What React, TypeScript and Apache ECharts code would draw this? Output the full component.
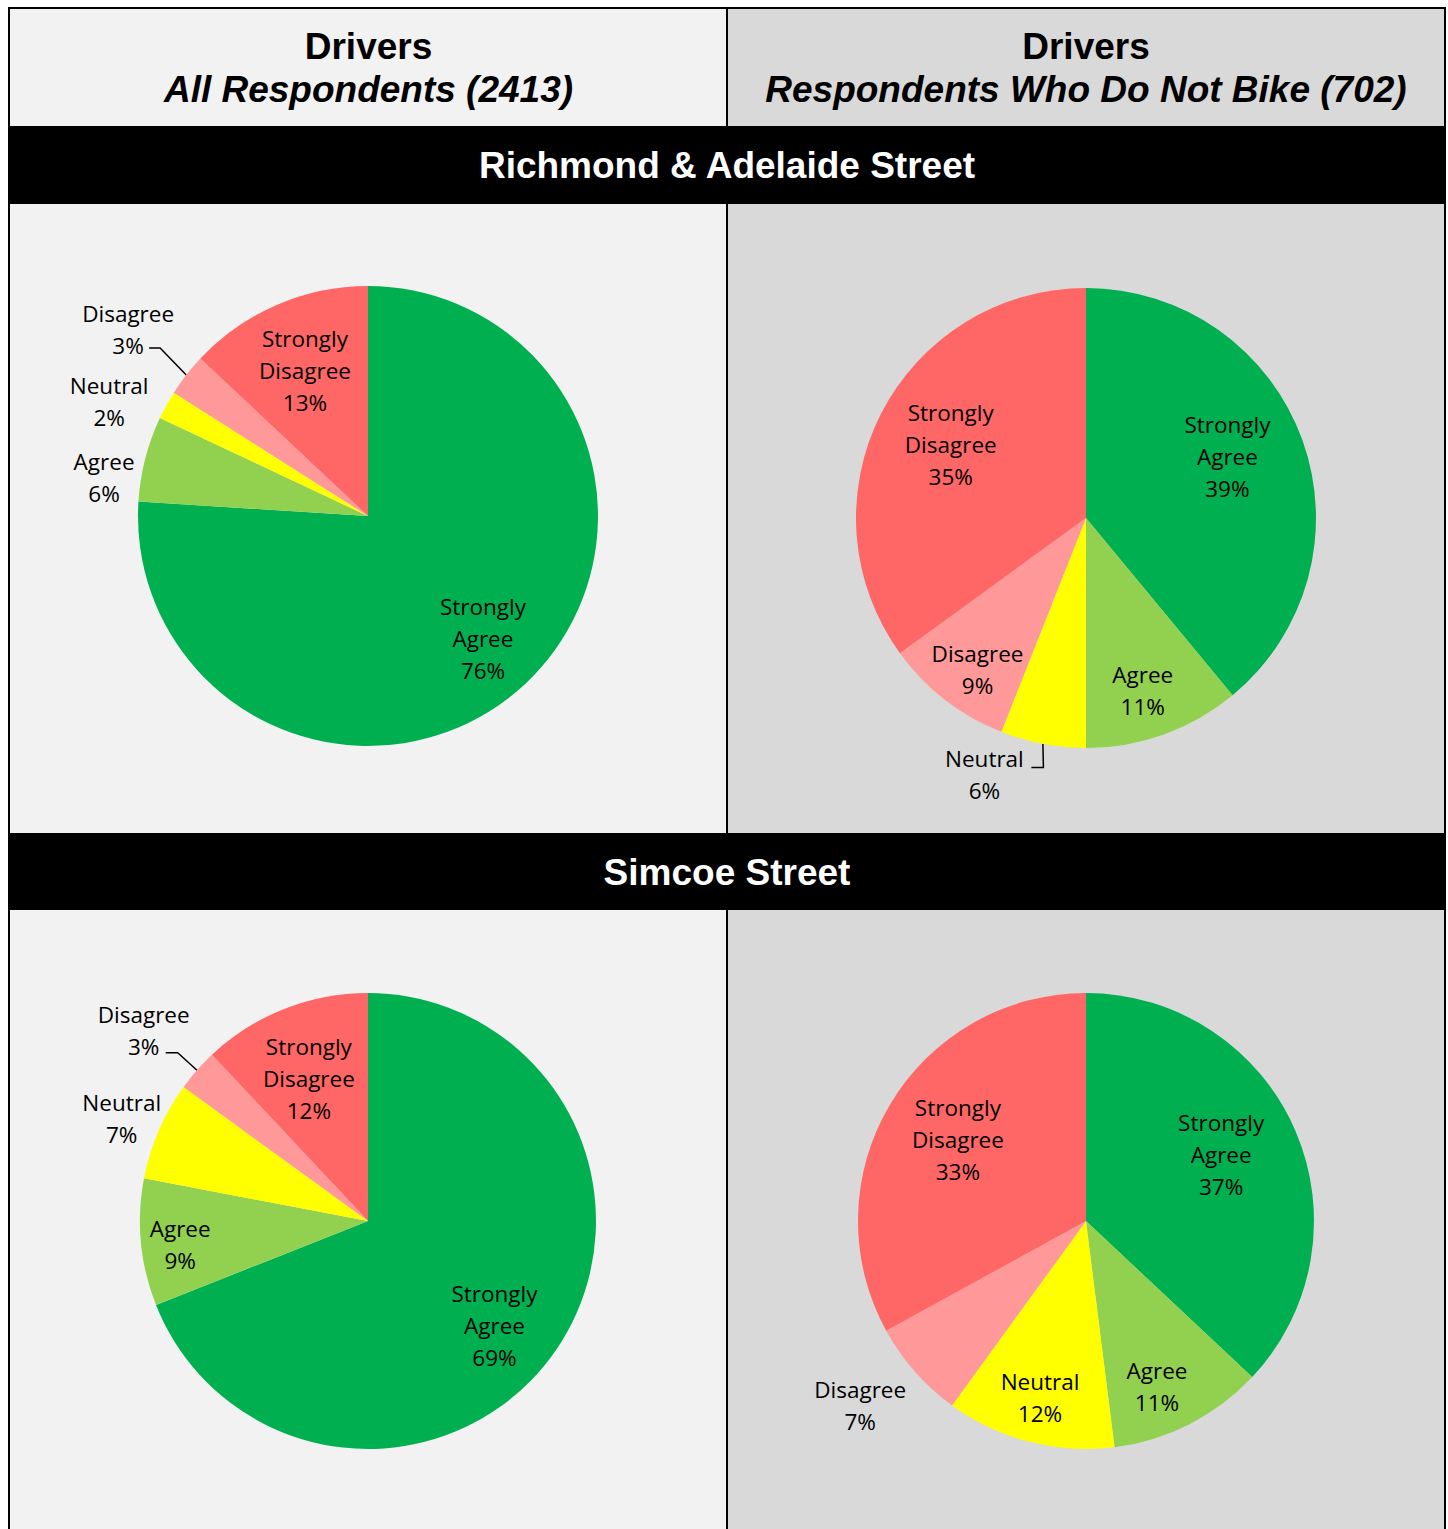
import React, { useEffect, useRef } from 'react';
import * as echarts from 'echarts';

// ---------- data ----------
const categories = ['Strongly Agree', 'Agree', 'Neutral', 'Disagree', 'Strongly Disagree'];
const richmondAll = [76, 6, 2, 3, 13];
const richmondNonBike = [39, 11, 6, 9, 35];
const simcoeAll = [69, 9, 7, 3, 12];
const simcoeNonBike = [37, 11, 12, 7, 33];

const columnTitles = ['Drivers', 'Drivers'];
const columnSubtitles = ['All Respondents (2413)', 'Respondents Who Do Not Bike (702)'];
const sectionTitles = ['Richmond & Adelaide Street', 'Simcoe Street'];

// ---------- styles / layout ----------
const sliceColors = ['#00B050', '#92D050', '#FFFF00', '#FF9999', '#FF6666'];
const W = 1448;
const H = 1529;
const LEFT = 9;
const MID = 727;
const RIGHT = 1445;
const TOP = 8;

type PieCfg = {
  values: number[];
  center: [number, number];
  r: number;
  place: [number, number][]; // [radius fraction, angle nudge in degrees]
  leader: Record<number, [[number, number], [number, number]]>;
};

const pies: PieCfg[] = [
  {
    values: richmondAll,
    center: [368, 516],
    r: 230,
    place: [[0.73, 0], [1.16, -6], [1.23, -5], [1.32, 0], [0.69, 0]],
    leader: { 3: [[32, 18], [21, 18]] },
  },
  {
    values: richmondNonBike,
    center: [1086, 518],
    r: 230,
    place: [[0.67, -3.6], [0.79, 1.6], [1.2, 10.8], [0.81, -2.2], [0.67, 1.6]],
    leader: { 2: [[59, -7], [47, -7]] },
  },
  {
    values: simcoeAll,
    center: [368, 1221],
    r: 228,
    place: [[0.72, 5.4], [0.83, -1.6], [1.17, -0.8], [1.29, -1.1], [0.675, -1]],
    leader: { 3: [[34, 22], [22, 22]] },
  },
  {
    values: simcoeNonBike,
    center: [1086, 1221],
    r: 228,
    place: [[0.66, -2.7], [0.79, 3.8], [0.8, 0.2], [1.28, 2.1], [0.667, 2]],
    leader: {},
  },
];

function midAngle(values: number[], i: number): number {
  const total = values.reduce((a, b) => a + b, 0);
  let before = 0;
  for (let j = 0; j < i; j++) before += values[j];
  return ((before + values[i] / 2) / total) * 360;
}

function buildSeries(cfg: PieCfg) {
  const [cx, cy] = cfg.center;
  return {
    type: 'pie',
    center: [cx, cy],
    radius: [0, cfg.r],
    startAngle: 90,
    clockwise: true,
    avoidLabelOverlap: false,
    silent: true,
    emphasis: { disabled: true },
    itemStyle: { borderWidth: 0 },
    label: {
      show: true,
      position: 'outside',
      color: '#000',
      fontFamily: '"Open Sans", sans-serif',
      fontSize: 22.5,
      lineHeight: 32,
      align: 'center',
      formatter: (p: any) => `${String(p.name).replace(' ', '\n')}\n${p.value}%`,
    },
    labelLine: { show: false },
    data: categories.map((name, i) => ({
      name,
      value: cfg.values[i],
      itemStyle: { color: sliceColors[i] },
      labelLine: cfg.leader[i]
        ? { show: true, lineStyle: { color: '#000', width: 1.5 } }
        : { show: false },
    })),
    labelLayout: (params: any) => {
      const i = params.dataIndex;
      const mid = midAngle(cfg.values, i);
      const [f, dt] = cfg.place[i];
      const th = ((mid + dt) * Math.PI) / 180;
      const x = cx + f * cfg.r * Math.sin(th);
      const y = cy - f * cfg.r * Math.cos(th);
      const out: any = { x, y, align: 'center', verticalAlign: 'middle' };
      const ld = cfg.leader[i];
      if (ld) {
        const m = (mid * Math.PI) / 180;
        out.labelLinePoints = [
          [cx + cfg.r * Math.sin(m), cy - cfg.r * Math.cos(m)],
          [x + ld[0][0], y + ld[0][1]],
          [x + ld[1][0], y + ld[1][1]],
        ];
      }
      return out;
    },
  };
}

function buildGraphic() {
  const titleFont = '"Liberation Sans", Arial, sans-serif';
  const els: any[] = [
    { type: 'rect', z: -10, shape: { x: LEFT, y: TOP, width: MID - LEFT, height: H - TOP }, style: { fill: '#F2F2F2' } },
    { type: 'rect', z: -10, shape: { x: MID, y: TOP, width: RIGHT - MID, height: H - TOP }, style: { fill: '#D9D9D9' } },
    { type: 'rect', z: -5, shape: { x: LEFT, y: 126, width: RIGHT - LEFT, height: 78 }, style: { fill: '#000' } },
    { type: 'rect', z: -5, shape: { x: LEFT, y: 833, width: RIGHT - LEFT, height: 77 }, style: { fill: '#000' } },
    { type: 'line', z: 50, shape: { x1: LEFT - 1, y1: TOP, x2: RIGHT + 1, y2: TOP }, style: { stroke: '#000', lineWidth: 2 } },
    { type: 'line', z: 50, shape: { x1: LEFT, y1: TOP - 1, x2: LEFT, y2: H }, style: { stroke: '#000', lineWidth: 2 } },
    { type: 'line', z: 50, shape: { x1: RIGHT, y1: TOP - 1, x2: RIGHT, y2: H }, style: { stroke: '#000', lineWidth: 2 } },
    { type: 'line', z: 50, shape: { x1: MID, y1: TOP, x2: MID, y2: H }, style: { stroke: '#000', lineWidth: 2 } },
  ];
  const colCenters = [(LEFT + MID) / 2 + 0.5, (MID + RIGHT) / 2];
  colCenters.forEach((cxx, k) => {
    els.push({
      type: 'text',
      z: 60,
      style: {
        text: columnTitles[k], x: cxx, y: 46, align: 'center', verticalAlign: 'middle',
        fill: '#000', fontFamily: titleFont, fontWeight: 'bold', fontSize: 37,
      },
    });
    els.push({
      type: 'text',
      z: 60,
      style: {
        text: columnSubtitles[k], x: cxx, y: 89, align: 'center', verticalAlign: 'middle',
        fill: '#000', fontFamily: titleFont, fontWeight: 'bold', fontStyle: 'italic', fontSize: 37,
      },
    });
  });
  const bandY = [165, 872];
  sectionTitles.forEach((t, k) => {
    els.push({
      type: 'text',
      z: 60,
      style: {
        text: t, x: (LEFT + RIGHT) / 2, y: bandY[k], align: 'center', verticalAlign: 'middle',
        fill: '#fff', fontFamily: titleFont, fontWeight: 'bold', fontSize: 37,
      },
    });
  });
  return els;
}

export default function App() {
  const ref = useRef<HTMLDivElement>(null);
  useEffect(() => {
    document.body.style.margin = '0';
    if (!ref.current) return;
    const chart = echarts.init(ref.current, undefined, { renderer: 'svg', width: W, height: H });
    chart.setOption({
      animation: false,
      backgroundColor: '#ffffff',
      graphic: { elements: buildGraphic() },
      series: pies.map(buildSeries),
    });
    return () => chart.dispose();
  }, []);
  return (
    <div
      ref={ref}
      style={{ position: 'absolute', left: 0, top: 0, width: W, height: H }}
    />
  );
}
